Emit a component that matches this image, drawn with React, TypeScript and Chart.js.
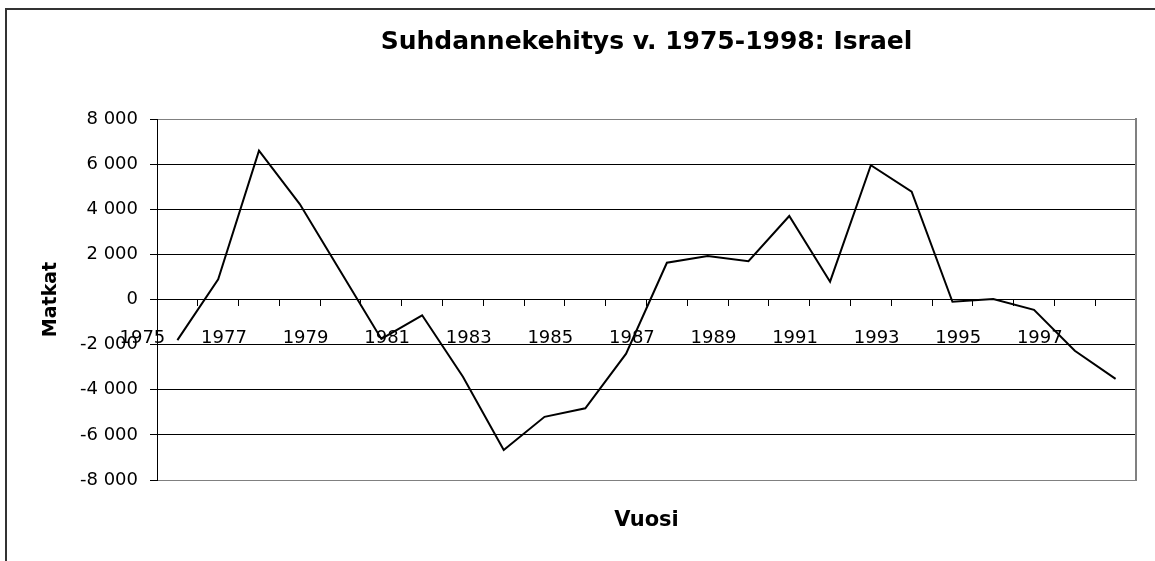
import React, { useEffect, useRef } from "react";
import { Chart, registerables } from "chart.js";

Chart.register(...registerables);

const years: string[] = [
  "1975", "1976", "1977", "1978", "1979", "1980", "1981", "1982",
  "1983", "1984", "1985", "1986", "1987", "1988", "1989", "1990",
  "1991", "1992", "1993", "1994", "1995", "1996", "1997", "1998",
];

const matkat: number[] = [
  -1800, 900, 6600, 4230, 1240, -1750, -700, -3420,
  -6670, -5200, -4820, -2400, 1630, 1930, 1700, 3700,
  790, 5950, 4780, -100, 20, -460, -2270, -3520,
];

const yMin = -8000;
const yMax = 8000;
const yStep = 2000;

const titleText = "Suhdannekehitys v. 1975-1998: Israel";
const yTitle = "Matkat";
const xTitle = "Vuosi";

const FONT = "'DejaVu Sans', 'Liberation Sans', Arial, sans-serif";

function fmt(v: number): string {
  const s = String(Math.abs(v)).replace(/\B(?=(\d{3})+(?!\d))/g, " ");
  return (v < 0 ? "-" : "") + s;
}

export default function App() {
  const ref = useRef<HTMLCanvasElement | null>(null);

  useEffect(() => {
    if (!ref.current) return;
    const chart = new Chart(ref.current, {
      type: "line",
      data: {
        labels: years,
        datasets: [
          {
            label: yTitle,
            data: matkat,
            borderColor: "#000000",
            borderWidth: 2,
            pointRadius: 0,
            tension: 0,
            fill: false,
            xAxisID: "x",
            yAxisID: "y",
          },
        ],
      },
      options: {
        responsive: false,
        animation: false,
        layout: { padding: 0 },
        plugins: {
          legend: { display: false },
          tooltip: { enabled: false },
          title: {
            display: true,
            fullSize: false,
            text: titleText,
            color: "#000000",
            font: { family: FONT, size: 25, weight: "bold" },
            padding: { top: 27, bottom: 62 },
          },
        },
        scales: {
          x: {
            type: "category",
            position: { y: 0 } as any,
            offset: true,
            grid: {
              display: true,
              drawOnChartArea: false,
              drawTicks: true,
              tickLength: 6,
              color: "#000000",
              offset: true,
            },
            border: { display: true, color: "#000000", width: 1 },
            ticks: {
              autoSkip: false,
              maxRotation: 0,
              minRotation: 0,
              labelOffset: -35,
              padding: 22,
              color: "#000000",
              font: { family: FONT, size: 18 },
              callback: (_v: any, i: number) => (i % 2 === 0 ? years[i] : ""),
            },
          },
          x2: {
            type: "category",
            position: "bottom",
            labels: years,
            grid: { display: false },
            border: { display: false },
            ticks: { display: false },
            title: {
              display: true,
              text: xTitle,
              color: "#000000",
              font: { family: FONT, size: 21, weight: "bold" },
              padding: { top: 0, bottom: 28 },
            },
            afterFit: (s: any) => {
              s.height = 81;
            },
          },
          y: {
            position: "left",
            min: yMin,
            max: yMax,
            grid: {
              color: (c: any) =>
                c.tick && (c.tick.value === yMax || c.tick.value === yMin)
                  ? "#808080"
                  : "#000000",
              tickColor: "#000000",
              tickLength: 7,
              drawTicks: true,
            },
            border: { display: true, color: "#000000", width: 1 },
            ticks: {
              stepSize: yStep,
              padding: 12,
              color: "#000000",
              font: { family: FONT, size: 18 },
              callback: (v: any) => fmt(Number(v)),
            },
            title: {
              display: true,
              text: yTitle,
              color: "#000000",
              font: { family: FONT, size: 19, weight: "bold" },
              padding: { top: 40, bottom: 0 },
            },
            afterFit: (s: any) => {
              s.width = 157;
            },
          },
          y2: {
            position: "right",
            min: yMin,
            max: yMax,
            grid: { display: false },
            border: { display: true, color: "#808080", width: 2 },
            ticks: { display: false },
            afterFit: (s: any) => {
              s.width = 19;
            },
          },
        },
      },
    });
    return () => chart.destroy();
  }, []);

  return (
    <div
      style={{
        position: "absolute",
        left: 0,
        top: 0,
        width: 1155,
        height: 561,
        overflow: "hidden",
        background: "#ffffff",
      }}
    >
      <div
        style={{
          position: "absolute",
          left: 5,
          top: 8,
          width: 1200,
          height: 600,
          borderTop: "2px solid #333333",
          borderLeft: "2px solid #333333",
        }}
      />
      <canvas
        ref={ref}
        width={1155}
        height={561}
        style={{ position: "absolute", left: 0, top: 0, display: "block" }}
      />
    </div>
  );
}
